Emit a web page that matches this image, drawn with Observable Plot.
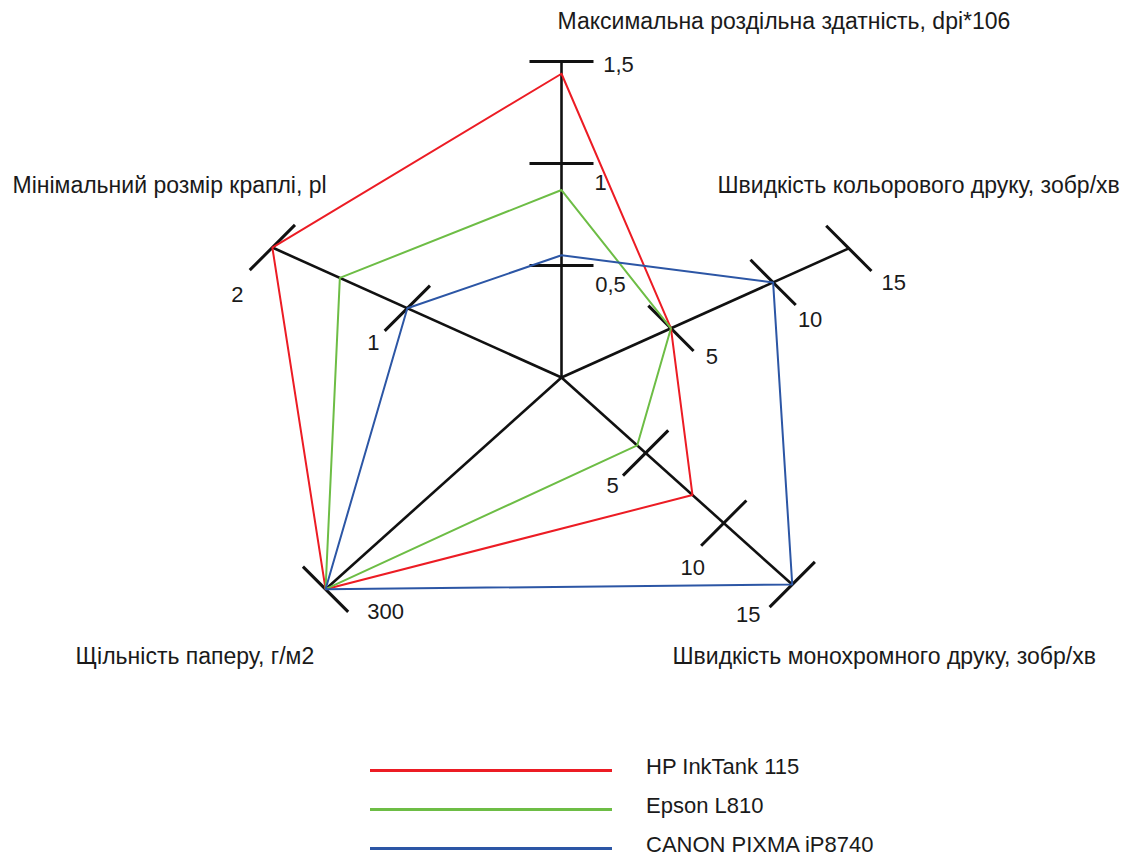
<!DOCTYPE html>
<html><head><meta charset="utf-8">
<script src="https://cdn.jsdelivr.net/npm/d3@7"></script>
<script src="https://cdn.jsdelivr.net/npm/@observablehq/plot@0.6"></script>
<style>
html,body{margin:0;padding:0;background:#fff;}
body{width:1147px;height:856px;overflow:hidden;font-family:"Liberation Sans",Arial,sans-serif;}
#legend{height:111px;box-sizing:border-box;padding-top:6px;padding-left:370px;}
.row{display:flex;align-items:center;height:39px;}
.swatch{width:242px;height:3px;margin-right:34px;}
.lab{font-size:22px;line-height:20px;color:#1a1a1a;position:relative;top:-4px;white-space:nowrap;}
</style></head><body>
<div id="chart"></div>
<div id="legend"></div>
<script>
// ---- data ----
const axisNames = [
  "Максимальна роздільна здатність, dpi*106",
  "Швидкість кольорового друку, зобр/хв",
  "Швидкість монохромного друку, зобр/хв",
  "Щільність паперу, г/м2",
  "Мінімальний розмір краплі, pl"
];
const seriesNames = ["HP InkTank 115", "Epson L810", "CANON PIXMA iP8740"];
const hpValues    = [1.44, 5, 8, 300, 2];
const epsonValues = [0.87, 5, 4.5, 300, 1.5];
const canonValues = [0.55, 10, 15, 300, 1];
const tickValues = [[0.5, 1, 1.5], [5, 10, 15], [5, 10, 15], [300], [1, 2]];
const tickLabels = [["0,5", "1", "1,5"], ["5", "10", "15"], ["5", "10", "15"], ["300"], ["1", "2"]];
const seriesColors = ["#ec1c24", "#6dbd45", "#2c56a5"];

// ---- layout ----
const W = 1147, H = 745, CX = 561, CY = 377;
const axisAngle = [90, 24.2, -41.9, -138.1, 155.8];           // degrees, y up
const axisDomain = [[0, 0.5, 1, 1.5], [0, 5, 10, 15], [0, 5, 10, 15], [0, 300], [0, 1, 2]];
const axisRange  = [[0, 112, 214, 316], [0, 120, 232, 315], [0, 113, 218, 310], [0, 317], [0, 169, 317]];
const tickBarAngle = [0, -45, 45, -45, 45];                    // degrees, y up
const tickHalf = 32;
// tick label centre offsets from the tick point (screen px: right, down)
const tickLabelOffset = [
  [[49, 19], [39, 19], [57, 3]],
  [[41, 29], [37, 38], [45, 35]],
  [[-33, 33], [-31, 45], [-44, 30]],
  [[60, 23]],
  [[-34, 35], [-35, 47]]
];
// axis title baseline starts (screen px relative to centre: right, down)
const titlePos = [[-4, -349], [156, -185], [111, 286], [-486, 286], [-549, -185]];

const rad = d => d * Math.PI / 180;
const scales = axisDomain.map((d, i) => d3.scaleLinear().domain(d).range(axisRange[i]));
const pt = (i, v) => {
  const r = scales[i](v), a = rad(axisAngle[i]);
  return {x: r * Math.cos(a), y: r * Math.sin(a)};
};

const axisLines = axisNames.map((name, i) => {
  const e = pt(i, d3.max(axisDomain[i]));
  return {name, x1: 0, y1: 0, x2: e.x, y2: e.y};
});

const tickBars = [], tickTexts = [];
tickValues.forEach((vals, i) => vals.forEach((v, j) => {
  const p = pt(i, v), b = rad(tickBarAngle[i]);
  const dx = tickHalf * Math.cos(b), dy = tickHalf * Math.sin(b);
  tickBars.push({x1: p.x - dx, y1: p.y - dy, x2: p.x + dx, y2: p.y + dy});
  const o = tickLabelOffset[i][j];
  tickTexts.push({x: p.x + o[0], y: p.y - o[1], label: tickLabels[i][j]});
}));

const allValues = [hpValues, epsonValues, canonValues];
const polyPoints = [];
allValues.forEach((vals, s) => {
  [...vals, vals[0]].forEach((v, k) => {
    const i = k % vals.length;
    const p = pt(i, v);
    polyPoints.push({series: seriesNames[s], x: p.x, y: p.y});
  });
});

const titles = axisNames.map((name, i) => ({name, x: titlePos[i][0], y: -titlePos[i][1]}));

const chart = Plot.plot({
  width: W, height: H, margin: 0,
  x: {domain: [-CX, W - CX], range: [0, W], axis: null},
  y: {domain: [CY - H, CY], range: [H, 0], axis: null},
  color: {domain: seriesNames, range: seriesColors},
  style: {fontFamily: '"Liberation Sans", Arial, sans-serif', background: "white", overflow: "visible"},
  marks: [
    Plot.link(axisLines, {x1: "x1", y1: "y1", x2: "x2", y2: "y2", stroke: "#111", strokeWidth: 2.6}),
    Plot.link(tickBars, {x1: "x1", y1: "y1", x2: "x2", y2: "y2", stroke: "#111", strokeWidth: 3}),
    Plot.line(polyPoints, {x: "x", y: "y", z: "series", stroke: "series", strokeWidth: 2, strokeLinejoin: "miter", curve: "linear"}),
    Plot.text(tickTexts, {x: "x", y: "y", text: "label", fontSize: 22, fill: "#1a1a1a", textAnchor: "middle", lineAnchor: "middle"}),
    Plot.text(titles, {x: "x", y: "y", text: "name", fontSize: 23, fill: "#1a1a1a", textAnchor: "start", lineAnchor: "bottom"})
  ]
});
document.getElementById("chart").appendChild(chart);

const legend = document.getElementById("legend");
seriesNames.forEach((name, s) => {
  const row = document.createElement("div");
  row.className = "row";
  const sw = document.createElement("span");
  sw.className = "swatch";
  sw.style.background = seriesColors[s];
  const lab = document.createElement("span");
  lab.className = "lab";
  lab.textContent = name;
  row.appendChild(sw); row.appendChild(lab);
  legend.appendChild(row);
});
</script>
</body></html>
